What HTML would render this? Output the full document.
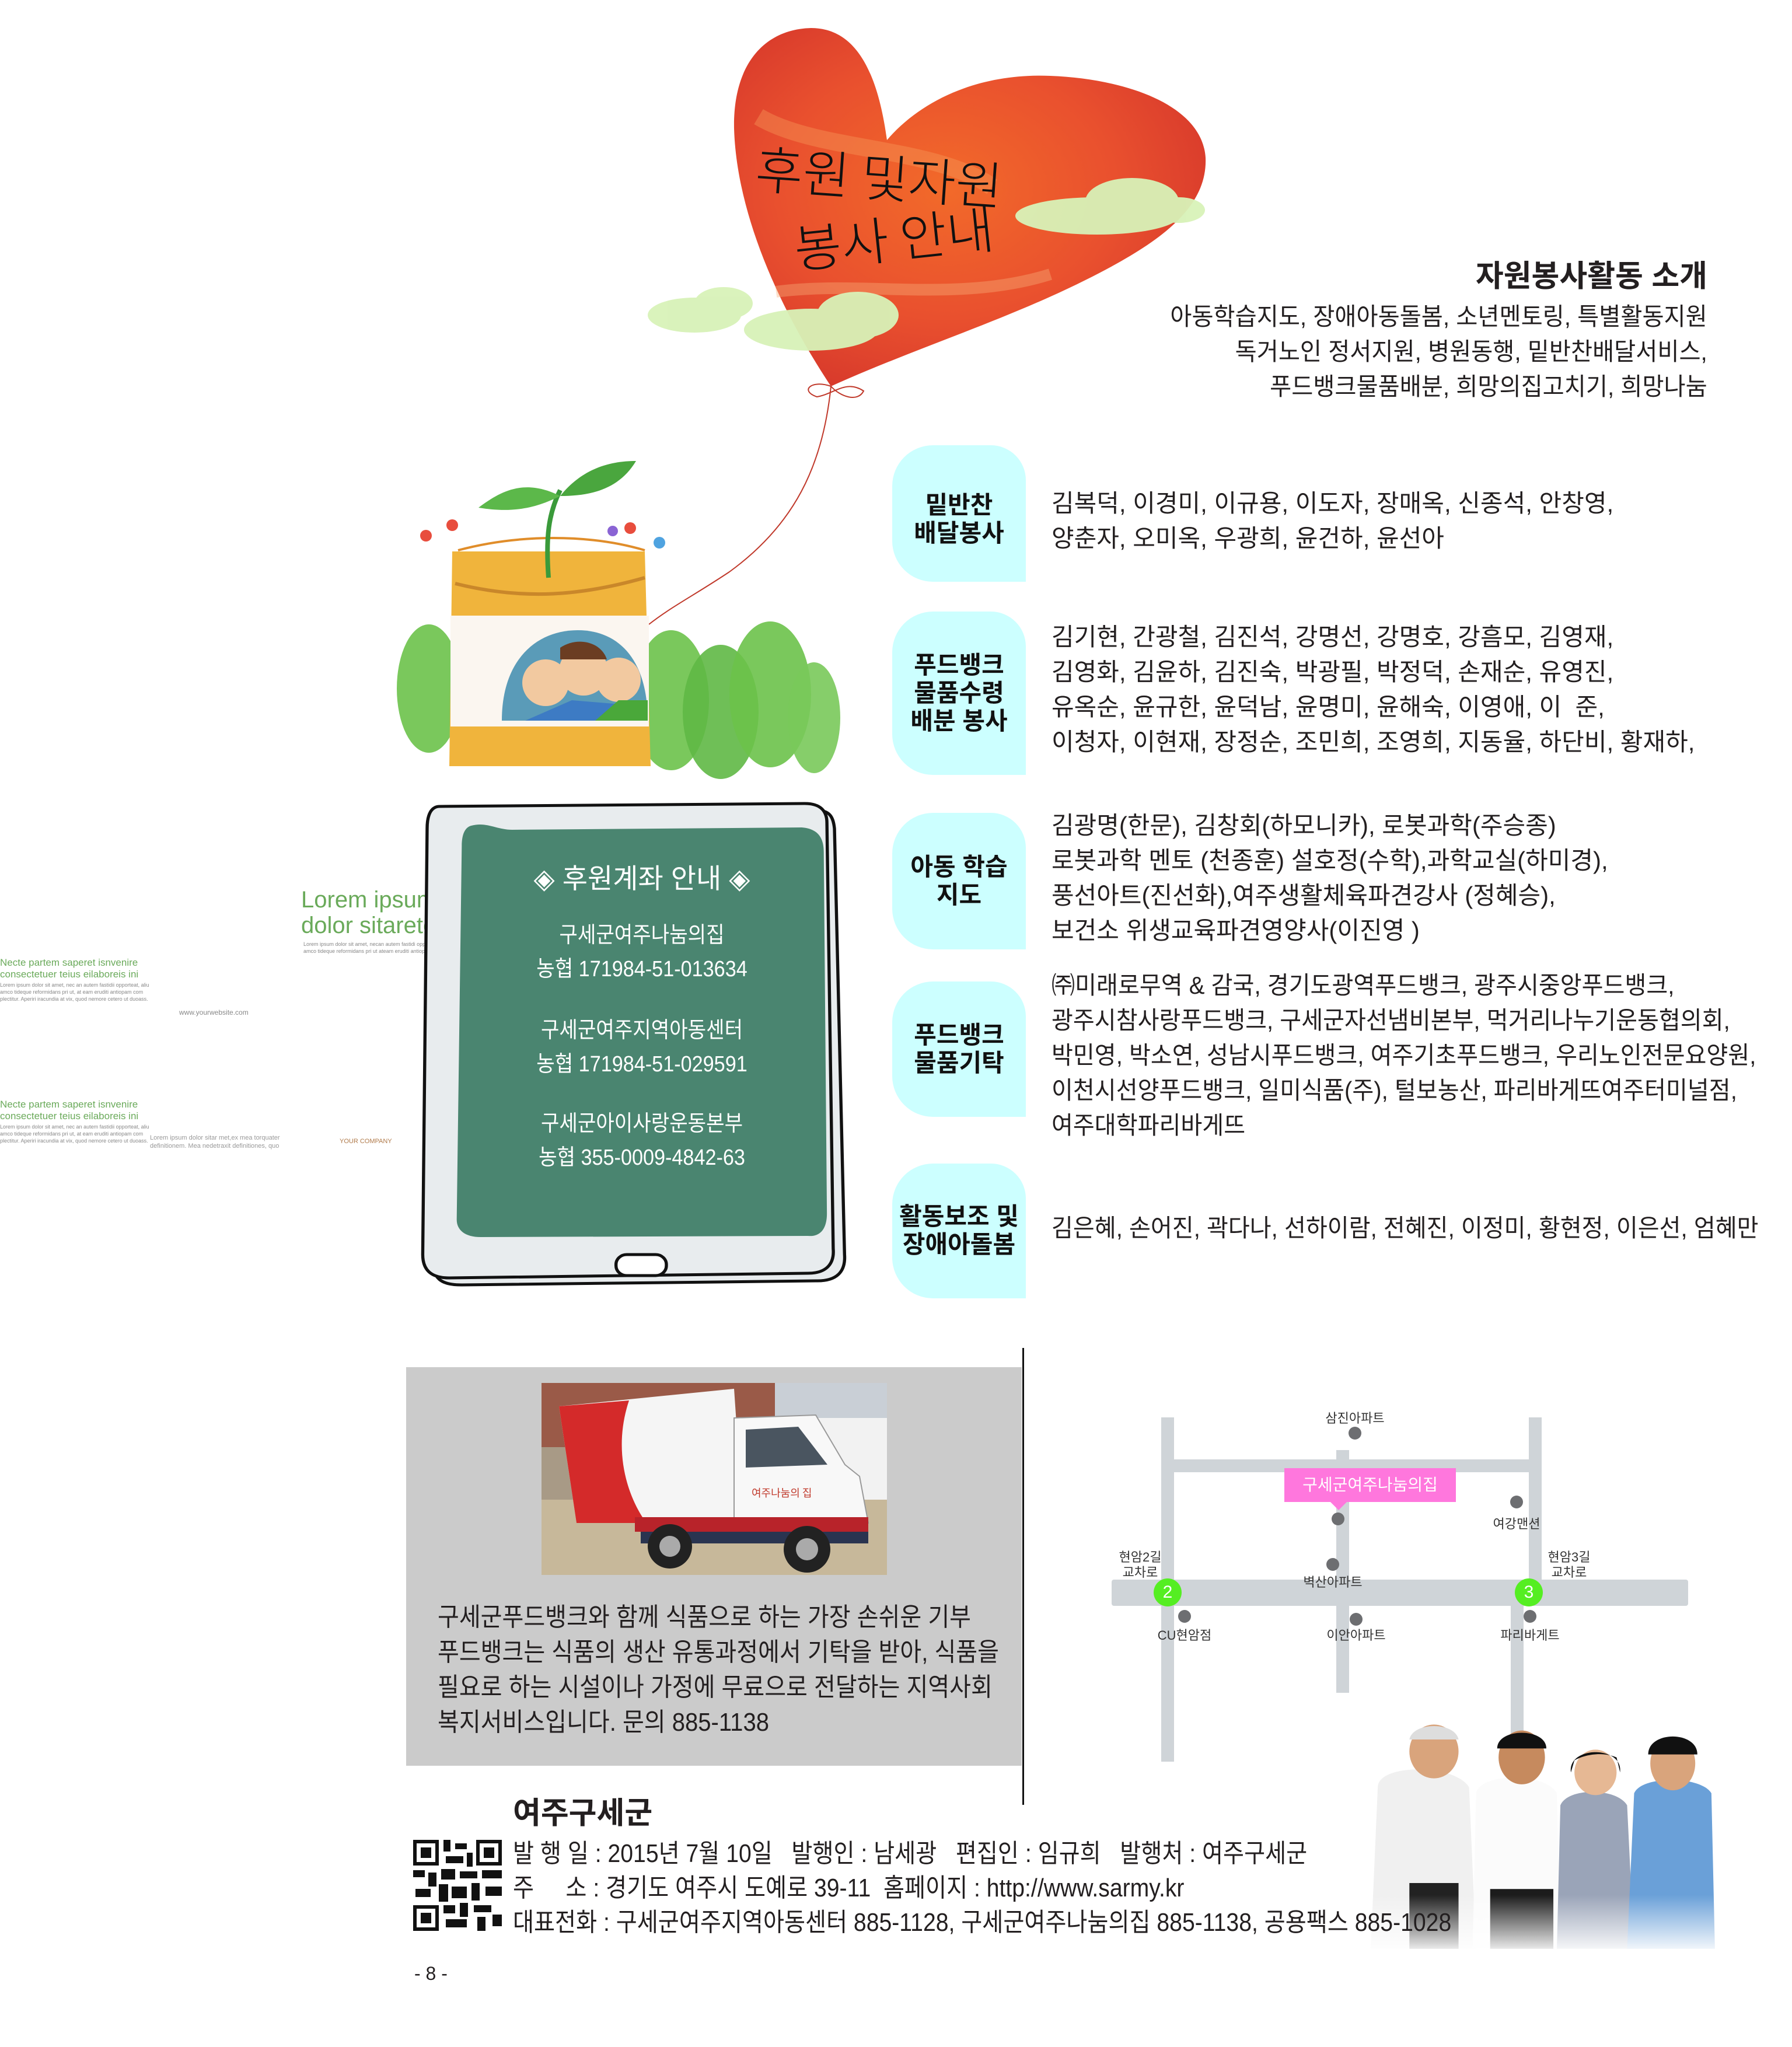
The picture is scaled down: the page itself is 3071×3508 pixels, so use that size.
<!DOCTYPE html>
<html><head><meta charset="utf-8">
<style>
html,body{margin:0;padding:0;background:#fff;}
#p{position:relative;width:3071px;height:3508px;overflow:hidden;background:#fff;font-family:"Liberation Sans","Noto Sans CJK KR",sans-serif;color:#231f20;}
.a{position:absolute;white-space:nowrap;}
.lab{position:absolute;background:#ccffff;border-radius:70px 60px 0 70px;}
.lt{position:absolute;font-weight:bold;font-size:42px;line-height:48px;text-align:center;color:#111;}
.nm{position:absolute;left:1802px;font-size:42px;line-height:60px;white-space:nowrap;color:#231f20;transform-origin:left top;}
.ml{position:absolute;font-size:22px;color:#333;transform:translateX(-50%);white-space:nowrap;line-height:26px;text-align:center;}
.dot{position:absolute;width:22px;height:22px;border-radius:50%;background:#6d6e71;}
.rd{position:absolute;background:#cfd4d8;}
</style></head><body><div id="p">

<svg class="a" style="left:0;top:0" width="3071" height="1450">
<defs>
<radialGradient id="hg" cx="0.45" cy="0.45" r="0.6">
<stop offset="0" stop-color="#f26a2a"/><stop offset="0.6" stop-color="#e9502e"/><stop offset="1" stop-color="#d83a2c"/>
</radialGradient>
</defs>
<path d="M1424,662 C1330,520 1262,360 1258,220 C1256,110 1310,50 1390,48 C1470,48 1505,130 1520,240 C1580,170 1680,125 1800,130 C1930,135 2060,180 2066,270 C2070,360 1980,420 1860,480 C1720,550 1560,600 1424,662 Z" fill="url(#hg)"/>
<path d="M1300,200 C1400,260 1600,250 1700,320" stroke="#f79a5a" stroke-width="30" fill="none" opacity="0.4"/>
<path d="M1330,500 C1480,480 1640,520 1800,470" stroke="#f7b07a" stroke-width="20" fill="none" opacity="0.4"/>
<g fill="#d8f2b8" opacity="0.95">
<ellipse cx="1190" cy="540" rx="80" ry="30"/><ellipse cx="1240" cy="520" rx="50" ry="28"/>
<ellipse cx="1390" cy="565" rx="115" ry="36"/><ellipse cx="1470" cy="540" rx="70" ry="40"/>
<ellipse cx="1880" cy="370" rx="140" ry="32"/><ellipse cx="1940" cy="345" rx="80" ry="40"/><ellipse cx="2020" cy="360" rx="45" ry="22"/>
</g>
<path d="M1424,662 C1410,800 1360,900 1250,980 C1190,1020 1150,1040 1112,1070" stroke="#c0392b" stroke-width="2" fill="none"/>
<path d="M1424,662 C1390,650 1370,670 1400,680 C1430,675 1450,650 1480,670 C1470,690 1440,680 1424,662" stroke="#c0392b" stroke-width="2" fill="none"/>
<g>
<ellipse cx="735" cy="1180" rx="55" ry="110" fill="#6cc24a" opacity="0.9"/>
<ellipse cx="1150" cy="1200" rx="65" ry="120" fill="#6cc24a" opacity="0.9"/>
<ellipse cx="1235" cy="1220" rx="65" ry="115" fill="#5fb845" opacity="0.9"/>
<ellipse cx="1320" cy="1190" rx="70" ry="125" fill="#6cc24a" opacity="0.9"/>
<ellipse cx="1395" cy="1230" rx="45" ry="95" fill="#79c95a" opacity="0.9"/>
<path d="M775,945 L1105,945 L1115,1313 L770,1313 Z" fill="#f0b43c"/>
<rect x="772" y="1055" width="340" height="190" fill="#fbf6f0"/>
<path d="M860,1235 C860,1130 920,1080 990,1080 C1060,1080 1110,1130 1110,1235 Z" fill="#5a9bb8"/>
<circle cx="935" cy="1170" r="40" fill="#f2c9a0"/><circle cx="1000" cy="1150" r="42" fill="#f2c9a0"/><circle cx="1060" cy="1165" r="38" fill="#f2c9a0"/>
<path d="M960,1110 C990,1090 1030,1100 1040,1130 L960,1130 Z" fill="#6b3d22"/>
<path d="M900,1235 L980,1200 L1100,1210 L1100,1235 Z" fill="#3d7bc4"/>
<path d="M1020,1235 L1060,1200 L1110,1200 L1110,1235 Z" fill="#4aa83a"/>
<path d="M780,1000 C900,1030 1000,1020 1105,990" stroke="#c9872a" stroke-width="6" fill="none"/>
<path d="M785,943 C890,915 1010,915 1105,943" stroke="#e08d2a" stroke-width="4" fill="none"/>
<path d="M940,990 C935,920 940,880 960,840" stroke="#3a9a3a" stroke-width="8" fill="none"/>
<path d="M960,850 C900,820 860,840 820,870 C880,880 920,870 960,850 Z" fill="#5cb84a"/>
<path d="M960,850 C1000,800 1050,790 1090,790 C1060,840 1010,850 960,850 Z" fill="#4aa63e"/>
<circle cx="730" cy="918" r="10" fill="#e84d3d"/><circle cx="775" cy="900" r="10" fill="#e84d3d"/><circle cx="1080" cy="905" r="10" fill="#e84d3d"/><circle cx="1050" cy="910" r="9" fill="#8a64d4"/><circle cx="1130" cy="930" r="10" fill="#4fa3e0"/>
</g>
</svg>
<div class="a" style="left:1295px;top:250px;font-size:88px;line-height:100px;color:#111;transform:rotate(4deg);font-family:'Noto Sans CJK KR',sans-serif;font-weight:300;">후원 및자원</div>
<div class="a" style="left:1360px;top:355px;font-size:88px;line-height:100px;color:#111;transform:rotate(-6deg);font-family:'Noto Sans CJK KR',sans-serif;font-weight:300;">봉사 안내</div>

<div class="a" style="right:145px;top:444px;font-size:52px;font-weight:bold;line-height:60px;">자원봉사활동 소개</div>
<div class="a" style="right:145px;top:513px;font-size:42px;line-height:60px;text-align:right;transform:scaleX(0.96);transform-origin:right top;">아동학습지도, 장애아동돌봄, 소년멘토링, 특별활동지원<br>독거노인 정서지원, 병원동행, 밑반찬배달서비스,<br>푸드뱅크물품배분, 희망의집고치기, 희망나눔</div>

<div class="lab" style="left:1529px;top:763px;width:229px;height:234px;"></div>
<div class="lt" style="left:1529px;top:842px;width:229px;">밑반찬<br>배달봉사</div>
<div class="lab" style="left:1529px;top:1048px;width:229px;height:280px;"></div>
<div class="lt" style="left:1529px;top:1116px;width:229px;">푸드뱅크<br>물품수령<br>배분 봉사</div>
<div class="lab" style="left:1529px;top:1393px;width:229px;height:234px;"></div>
<div class="lt" style="left:1529px;top:1462px;width:229px;">아동 학습<br>지도</div>
<div class="lab" style="left:1529px;top:1682px;width:229px;height:232px;"></div>
<div class="lt" style="left:1529px;top:1750px;width:229px;">푸드뱅크<br>물품기탁</div>
<div class="lab" style="left:1529px;top:1994px;width:229px;height:231px;"></div>
<div class="lt" style="left:1529px;top:2061px;width:229px;">활동보조 및<br>장애아돌봄</div>

<div class="nm" style="top:833px;">김복덕, 이경미, 이규용, 이도자, 장매옥, 신종석, 안창영,<br>양춘자, 오미옥, 우광희, 윤건하, 윤선아</div>
<div class="nm" style="top:1062px;">김기현, 간광철, 김진석, 강명선, 강명호, 강흠모, 김영재,<br>김영화, 김윤하, 김진숙, 박광필, 박정덕, 손재순, 유영진,<br>유옥순, 윤규한, 윤덕남, 윤명미, 윤해숙, 이영애, 이&nbsp;&nbsp;준,<br>이청자, 이현재, 장정순, 조민희, 조영희, 지동율, 하단비, 황재하,</div>
<div class="nm" style="top:1385px;">김광명(한문), 김창회(하모니카), 로봇과학(주승종)<br>로봇과학 멘토 (천종훈) 설호정(수학),과학교실(하미경),<br>풍선아트(진선화),여주생활체육파견강사 (정혜승),<br>보건소 위생교육파견영양사(이진영 )</div>
<div class="nm" style="top:1659px;transform:scaleX(0.955);">㈜미래로무역 &amp; 감국, 경기도광역푸드뱅크, 광주시중앙푸드뱅크,<br>광주시참사랑푸드뱅크, 구세군자선냄비본부, 먹거리나누기운동협의회,<br>박민영, 박소연, 성남시푸드뱅크, 여주기초푸드뱅크, 우리노인전문요양원,<br>이천시선양푸드뱅크, 일미식품(주), 털보농산, 파리바게뜨여주터미널점,<br>여주대학파리바게뜨</div>
<div class="nm" style="top:2075px;transform:scaleX(0.955);">김은혜, 손어진, 곽다나, 선하이람, 전혜진, 이정미, 황현정, 이은선, 엄혜만</div>

<div class="a" style="left:516px;top:1520px;font-size:40px;line-height:44px;color:#6aaa5a;">Lorem ipsum<br>dolor sitarete</div>
<div class="a" style="left:520px;top:1612px;font-size:9px;line-height:12px;color:#888;">Lorem ipsum dolor sit amet, necan autem fastidi opportean al<br>amco tideque reformidans pri ut ateam eruditi antiopam co</div>
<div class="a" style="left:0;top:1640px;font-size:17px;line-height:20px;color:#6aaa5a;">Necte partem saperet isnvenire<br>consectetuer teius eilaboreis ini</div>
<div class="a" style="left:0;top:1682px;font-size:9px;line-height:12px;color:#888;">Lorem ipsum dolor sit amet, nec an autem fastidii opporteat, aliu<br>amco tideque reformidans pri ut, at eam eruditi antiopam com<br>plectitur. Aperiri iracundia at vix, quod nemore cetero ut duoass.</div>
<div class="a" style="left:307px;top:1728px;font-size:12px;color:#888;">www.yourwebsite.com</div>
<div class="a" style="left:0;top:1883px;font-size:17px;line-height:20px;color:#6aaa5a;">Necte partem saperet isnvenire<br>consectetuer teius eilaboreis ini</div>
<div class="a" style="left:0;top:1925px;font-size:9px;line-height:12px;color:#888;">Lorem ipsum dolor sit amet, nec an autem fastidii opporteat, aliu<br>amco tideque reformidans pri ut, at eam eruditi antiopam com<br>plectitur. Aperiri iracundia at vix, quod nemore cetero ut duoass.</div>
<div class="a" style="left:257px;top:1943px;font-size:11px;line-height:14px;color:#999;">Lorem ipsum dolor sitar met,ex mea torquater<br>definitionem. Mea nedetraxit definitiones, quo</div>
<div class="a" style="left:582px;top:1950px;font-size:11px;color:#b07a4a;">YOUR COMPANY</div>

<svg class="a" style="left:705px;top:1360px" width="820" height="880" viewBox="0 0 760 880" preserveAspectRatio="none">
<path d="M60,30 L640,28 C665,28 670,40 672,60 L688,790 C690,820 675,835 645,835 L80,842 C45,842 35,830 33,800 L28,70 C28,45 40,30 60,30 Z" fill="#e8ecee" stroke="#111" stroke-width="5"/>
<path d="M45,22 L625,17 C650,17 660,30 660,50 L670,780 C672,805 660,822 630,822 L60,830 C30,830 18,815 18,790 L25,60 C25,35 32,22 45,22 Z" fill="#e8ecee" stroke="#111" stroke-width="5"/>
<path d="M95,55 C120,48 135,62 160,62 L620,58 C645,60 655,75 655,100 L660,720 C660,745 650,760 630,758 L110,760 C85,760 72,748 72,730 L80,90 C80,70 85,58 95,55 Z" fill="#4a8570"/>
<rect x="325" y="790" width="80" height="36" rx="17" fill="#fff" stroke="#111" stroke-width="5"/>
</svg>
<div class="a" style="left:800px;top:1478px;width:600px;text-align:center;font-size:47px;line-height:56px;color:#fff;">◈ 후원계좌 안내 ◈</div>
<div class="a" style="left:800px;top:1574px;width:600px;text-align:center;font-size:38px;line-height:58px;color:#fff;transform:scaleX(0.9);">구세군여주나눔의집<br>농협 171984-51-013634</div>
<div class="a" style="left:800px;top:1737px;width:600px;text-align:center;font-size:38px;line-height:58px;color:#fff;transform:scaleX(0.9);">구세군여주지역아동센터<br>농협 171984-51-029591</div>
<div class="a" style="left:800px;top:1897px;width:600px;text-align:center;font-size:38px;line-height:58px;color:#fff;transform:scaleX(0.9);">구세군아이사랑운동본부<br>농협 355-0009-4842-63</div>

<div class="a" style="left:696px;top:2343px;width:1055px;height:683px;background:#cbcbcb;"></div>
<div class="a" style="left:1752px;top:2310px;width:3px;height:783px;background:#111;"></div>
<svg class="a" style="left:928px;top:2370px" width="592" height="329">
<rect width="592" height="329" fill="#a89a86"/>
<rect width="592" height="110" fill="#9a5a48"/>
<rect x="400" y="0" width="192" height="80" fill="#c9cfd6"/>
<rect y="200" width="592" height="129" fill="#c7b89a"/>
<rect x="430" y="60" width="162" height="140" fill="#f2f2f2"/>
<path d="M30,40 L330,10 L345,230 L60,240 Z" fill="#f5f5f5"/>
<path d="M30,40 L150,30 C120,120 150,200 180,240 L60,240 Z" fill="#d42a2a"/>
<path d="M330,60 L470,55 L520,140 L545,160 L560,240 L330,245 Z" fill="#f8f8f8" stroke="#999" stroke-width="2"/>
<path d="M350,80 L440,75 L490,140 L350,145 Z" fill="#4a5560"/>
<rect x="160" y="230" width="400" height="25" fill="#b8232a"/>
<rect x="170" y="255" width="390" height="20" fill="#2a3450"/>
<circle cx="220" cy="280" r="38" fill="#222"/><circle cx="220" cy="280" r="18" fill="#aaa"/>
<circle cx="455" cy="285" r="40" fill="#222"/><circle cx="455" cy="285" r="19" fill="#aaa"/>
<text x="360" y="195" font-size="18" fill="#c0392b" font-family="Noto Sans CJK KR">여주나눔의 집</text>
</svg>
<div class="a" style="left:750px;top:2742px;font-size:44px;line-height:60px;transform:scaleX(0.91);transform-origin:left top;">구세군푸드뱅크와 함께 식품으로 하는 가장 손쉬운 기부<br>푸드뱅크는 식품의 생산 유통과정에서 기탁을 받아, 식품을<br>필요로 하는 시설이나 가정에 무료으로 전달하는 지역사회<br>복지서비스입니다. 문의 885-1138</div>

<div class="a" style="left:0;top:0;width:3071px;height:3508px;transform:translate(14px,15px);">
<div class="rd" style="left:1976px;top:2414px;width:22px;height:590px;"></div>
<div class="rd" style="left:2606px;top:2414px;width:22px;height:290px;"></div>
<div class="rd" style="left:2575px;top:2700px;width:22px;height:260px;"></div>
<div class="rd" style="left:1987px;top:2486px;width:630px;height:22px;"></div>
<div class="rd" style="left:2276px;top:2470px;width:22px;height:416px;"></div>
<div class="rd" style="left:1891px;top:2692px;width:988px;height:45px;border-radius:4px;"></div>
<div class="a" style="left:2187px;top:2501px;width:294px;height:58px;background:#ff77dd;color:#fff;font-size:28px;line-height:58px;text-align:center;">구세군여주나눔의집</div>
<div class="a" style="left:2266px;top:2559px;width:0;height:0;border-left:14px solid transparent;border-right:14px solid transparent;border-top:14px solid #ff77dd;"></div>
<div class="dot" style="left:2297px;top:2430px;"></div>
<div class="dot" style="left:2268px;top:2577px;"></div>
<div class="dot" style="left:2574px;top:2548px;"></div>
<div class="dot" style="left:2259px;top:2655px;"></div>
<div class="dot" style="left:2005px;top:2744px;"></div>
<div class="dot" style="left:2299px;top:2749px;"></div>
<div class="dot" style="left:2597px;top:2744px;"></div>
<div class="ml" style="left:2308px;top:2403px;">삼진아파트</div>
<div class="ml" style="left:2585px;top:2584px;">여강맨션</div>
<div class="ml" style="left:1940px;top:2641px;">현암2길<br>교차로</div>
<div class="ml" style="left:2675px;top:2641px;">현암3길<br>교차로</div>
<div class="ml" style="left:2270px;top:2684px;">벽산아파트</div>
<div class="ml" style="left:2016px;top:2775px;">CU현암점</div>
<div class="ml" style="left:2310px;top:2775px;">이안아파트</div>
<div class="ml" style="left:2608px;top:2775px;">파리바게트</div>
<div class="a" style="left:1963px;top:2690px;width:48px;height:48px;border-radius:50%;background:#55ee22;color:#fff;font-size:30px;line-height:48px;text-align:center;">2</div>
<div class="a" style="left:2582px;top:2690px;width:48px;height:48px;border-radius:50%;background:#55ee22;color:#fff;font-size:30px;line-height:48px;text-align:center;">3</div>
</div>

<svg class="a" style="left:2325px;top:2940px" width="650" height="410" viewBox="0 0 540 400" preserveAspectRatio="none">
<defs><linearGradient id="fd" x1="0" y1="0" x2="0" y2="1"><stop offset="0.75" stop-color="#fff" stop-opacity="0"/><stop offset="1" stop-color="#fff" stop-opacity="1"/></linearGradient></defs>
<path d="M30,120 C30,80 140,80 160,120 L170,390 L20,390 Z" fill="#f0f0f0"/>
<rect x="75" y="280" width="70" height="110" fill="#222"/>
<ellipse cx="110" cy="60" rx="35" ry="45" fill="#d9a47c"/><path d="M75,40 C80,10 140,10 145,40 Z" fill="#ddd"/>
<path d="M170,130 C175,95 270,95 285,130 L290,390 L165,390 Z" fill="#fbfbfb"/>
<rect x="190" y="290" width="90" height="100" fill="#1c1c1c"/>
<ellipse cx="235" cy="70" rx="33" ry="45" fill="#c68a5e"/><path d="M200,55 C200,20 270,20 270,55 Z" fill="#111"/>
<path d="M290,150 C300,120 370,120 385,150 L395,390 L285,390 Z" fill="#9aa4b8"/>
<ellipse cx="340" cy="95" rx="30" ry="38" fill="#e6b894"/><path d="M305,95 C300,50 380,50 375,95 L370,70 C350,60 325,65 310,75 Z" fill="#111"/>
<path d="M395,130 C405,100 490,100 505,130 L510,390 L385,390 Z" fill="#6aa0d8"/>
<ellipse cx="450" cy="80" rx="32" ry="45" fill="#d9a47c"/><path d="M415,65 C415,25 485,25 485,65 Z" fill="#111"/>
<rect width="540" height="400" fill="url(#fd)"/>
</svg>

<div class="a" style="left:879px;top:3078px;font-size:52px;font-weight:bold;line-height:60px;">여주구세군</div>
<svg class="a" style="left:708px;top:3153px" width="152" height="156">
<rect width="152" height="156" fill="#fff"/>
<g fill="#111">
<rect x="0" y="0" width="44" height="44"/><rect x="108" y="0" width="44" height="44"/><rect x="0" y="112" width="44" height="44"/>
</g>
<g fill="#fff"><rect x="6" y="6" width="32" height="32"/><rect x="114" y="6" width="32" height="32"/><rect x="6" y="118" width="32" height="32"/></g>
<g fill="#111"><rect x="13" y="13" width="18" height="18"/><rect x="121" y="13" width="18" height="18"/><rect x="13" y="125" width="18" height="18"/>
<rect x="52" y="0" width="12" height="20"/><rect x="72" y="6" width="20" height="10"/><rect x="56" y="28" width="30" height="12"/><rect x="92" y="22" width="10" height="24"/>
<rect x="0" y="52" width="20" height="12"/><rect x="26" y="56" width="14" height="24"/><rect x="48" y="50" width="24" height="18"/><rect x="80" y="54" width="30" height="12"/><rect x="118" y="52" width="34" height="14"/>
<rect x="4" y="84" width="26" height="14"/><rect x="44" y="76" width="16" height="30"/><rect x="66" y="80" width="26" height="20"/><rect x="100" y="74" width="14" height="30"/><rect x="124" y="80" width="28" height="16"/>
<rect x="52" y="112" width="20" height="14"/><rect x="80" y="108" width="14" height="24"/><rect x="104" y="112" width="30" height="12"/><rect x="56" y="136" width="36" height="14"/><rect x="110" y="132" width="14" height="24"/><rect x="136" y="128" width="16" height="20"/>
</g>
</svg>
<div class="a" style="left:879px;top:3147px;font-size:44px;line-height:59px;transform:scaleX(0.89);transform-origin:left top;">발 행 일 : 2015년 7월 10일&nbsp;&nbsp;&nbsp;발행인 : 남세광&nbsp;&nbsp;&nbsp;편집인 : 임규희&nbsp;&nbsp;&nbsp;발행처 : 여주구세군<br>주&nbsp;&nbsp;&nbsp;&nbsp;&nbsp;소 : 경기도 여주시 도예로 39-11&nbsp;&nbsp;홈페이지 : http://www.sarmy.kr<br>대표전화 : 구세군여주지역아동센터 885-1128, 구세군여주나눔의집 885-1138, 공용팩스 885-1028</div>
<div class="a" style="left:710px;top:3364px;font-size:32px;line-height:36px;">- 8 -</div>

</div></body></html>
